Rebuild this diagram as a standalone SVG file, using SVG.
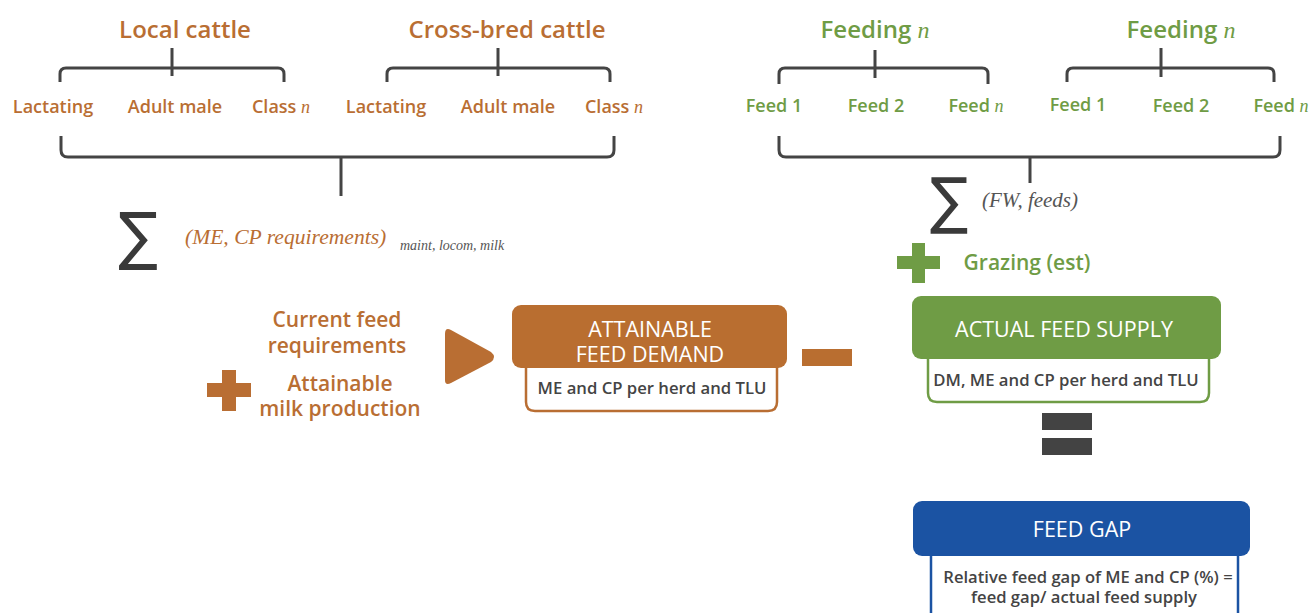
<svg xmlns="http://www.w3.org/2000/svg" width="1312" height="613" viewBox="0 0 1312 613">
<style>
.br{fill:none;stroke:#444;stroke-width:3;stroke-linecap:butt}
.t{font-family:"Open Sans","Liberation Sans",sans-serif;font-weight:600;text-anchor:middle}
.or{fill:#B96E33}
.gr{fill:#6F9C45}
.h1{font-size:24px}
.h2{font-size:18px}
.h3{font-size:21px}
.wh{fill:#fff;font-size:21.5px;font-weight:500}
.sub{fill:#444;font-size:16.7px}
.it{font-family:"Liberation Serif","DejaVu Serif",serif;font-style:italic}
.sig{font-family:"DejaVu Sans",sans-serif;fill:#3a3a3a;text-anchor:middle}
</style>
<rect width="1312" height="613" fill="#fff"/>

<g id="connectors">
<path class="br" d="M60,82 V74 Q60,68 66,68 H278 Q284,68 284,74 V82 M172,48 V76"/>
<path class="br" d="M387,82 V74 Q387,68 393,68 H604 Q610,68 610,74 V82 M498,48 V76"/>
<path class="br" d="M61,136 V150 Q61,157 68,157 H607 Q614,157 614,150 V136 M341,157 V196"/>
<path class="br" d="M779,84 V74 Q779,68 785,68 H982 Q988,68 988,74 V84 M875,50 V78"/>
<path class="br" d="M1067,82 V74 Q1067,68 1073,68 H1268 Q1274,68 1274,74 V82 M1161,48 V77"/>
<path class="br" d="M779,136 V150 Q779,157 786,157 H1273 Q1280,157 1280,150 V136 M1030,157 V183"/>
</g>

<g id="local-cattle">
<text class="t or h1" x="185" y="38">Local cattle</text>
<text class="t or h2" x="53" y="113">Lactating</text>
<text class="t or h2" x="175" y="113">Adult male</text>
<text class="t or h2" x="281" y="113">Class <tspan class="it" font-weight="400">n</tspan></text>
</g>
<g id="crossbred-cattle">
<text class="t or h1" x="507" y="38">Cross-bred cattle</text>
<text class="t or h2" x="386" y="113">Lactating</text>
<text class="t or h2" x="508" y="113">Adult male</text>
<text class="t or h2" x="614" y="113">Class <tspan class="it" font-weight="400">n</tspan></text>
</g>

<g id="feeding-1">
<text class="t gr h1" x="875" y="38">Feeding <tspan class="it" font-weight="400">n</tspan></text>
<text class="t gr h2" x="774" y="112">Feed 1</text>
<text class="t gr h2" x="876" y="112">Feed 2</text>
<text class="t gr h2" x="976" y="112">Feed <tspan class="it" font-weight="400">n</tspan></text>
</g>
<g id="feeding-2">
<text class="t gr h1" x="1181" y="38">Feeding <tspan class="it" font-weight="400">n</tspan></text>
<text class="t gr h2" x="1078" y="111">Feed 1</text>
<text class="t gr h2" x="1181" y="112">Feed 2</text>
<text class="t gr h2" x="1281" y="112">Feed <tspan class="it" font-weight="400">n</tspan></text>
</g>

<g id="sum-requirements">
<text class="sig" x="138" y="258" font-size="64" transform="translate(138 0) scale(0.92 1) translate(-138 0)">∑</text>
<text class="it or" x="185" y="244" font-size="21.6">(ME, CP requirements)</text>
<text class="it" x="400" y="250" font-size="14" fill="#555">maint, locom, milk</text>
</g>

<g id="sum-feeds">
<text class="sig" x="949" y="222" font-size="62" transform="translate(949 0) scale(0.92 1) translate(-949 0)">∑</text>
<text class="it" x="982" y="207" font-size="21" fill="#555">(FW, feeds)</text>
</g>

<g id="grazing">
<path class="gr" d="M912,243 H925 V256 H940 V269 H925 V283 H912 V269 H897 V256 H912 Z"/>
<text class="t gr h3" x="1027" y="270">Grazing (est)</text>
</g>

<g id="current-requirements">
<text class="t or h3" x="337" y="327">Current feed</text>
<text class="t or h3" x="337" y="353">requirements</text>
<path class="or" d="M222,370 H236 V383 H251 V397 H236 V411 H222 V397 H207 V383 H222 Z"/>
<text class="t or h3" x="340" y="391">Attainable</text>
<text class="t or h3" x="340" y="416">milk production</text>
<path class="or" d="M445,334 Q445,327 451,330 L491,352 Q497,357 491,362 L451,383 Q445,386 445,380 Z"/>
</g>

<g id="attainable-demand">
<path d="M526,366 V402 Q526,411 535,411 H768 Q777,411 777,402 V366" fill="#fff" stroke="#B96E33" stroke-width="2.5"/>
<rect x="512" y="305" width="275" height="63" rx="9" fill="#B96E30"/>
<text class="t wh" x="650" y="337">ATTAINABLE</text>
<text class="t wh" x="650" y="362">FEED DEMAND</text>
<text class="t sub" x="652" y="394">ME and CP per herd and TLU</text>
</g>

<rect id="minus" x="802" y="349" width="50" height="17" fill="#B96E30"/>

<g id="actual-supply">
<path d="M928,357 V393 Q928,402 937,402 H1200 Q1209,402 1209,393 V357" fill="#fff" stroke="#6F9C45" stroke-width="2.5"/>
<rect x="912" y="296" width="309" height="63" rx="9" fill="#6F9C45"/>
<text class="t wh" x="1064" y="337">ACTUAL FEED SUPPLY</text>
<text class="t sub" x="1066" y="386">DM, ME and CP per herd and TLU</text>
</g>

<g id="equals">
<rect x="1042" y="413" width="50" height="17" fill="#434343"/>
<rect x="1042" y="438" width="50" height="17" fill="#434343"/>
</g>

<g id="feed-gap">
<path d="M931,553 V620 M1238,553 V620" fill="none" stroke="#1B53A3" stroke-width="2.5"/>
<rect x="913" y="501" width="337" height="55" rx="9" fill="#1B53A3"/>
<text class="t wh" x="1082" y="537">FEED GAP</text>
<text class="t" x="1088" y="583" font-size="16.6" fill="#444">Relative feed gap of ME and CP (%) =</text>
<text class="t" x="1084" y="603" font-size="16.6" fill="#444">feed gap/ actual feed supply</text>
</g>
</svg>
